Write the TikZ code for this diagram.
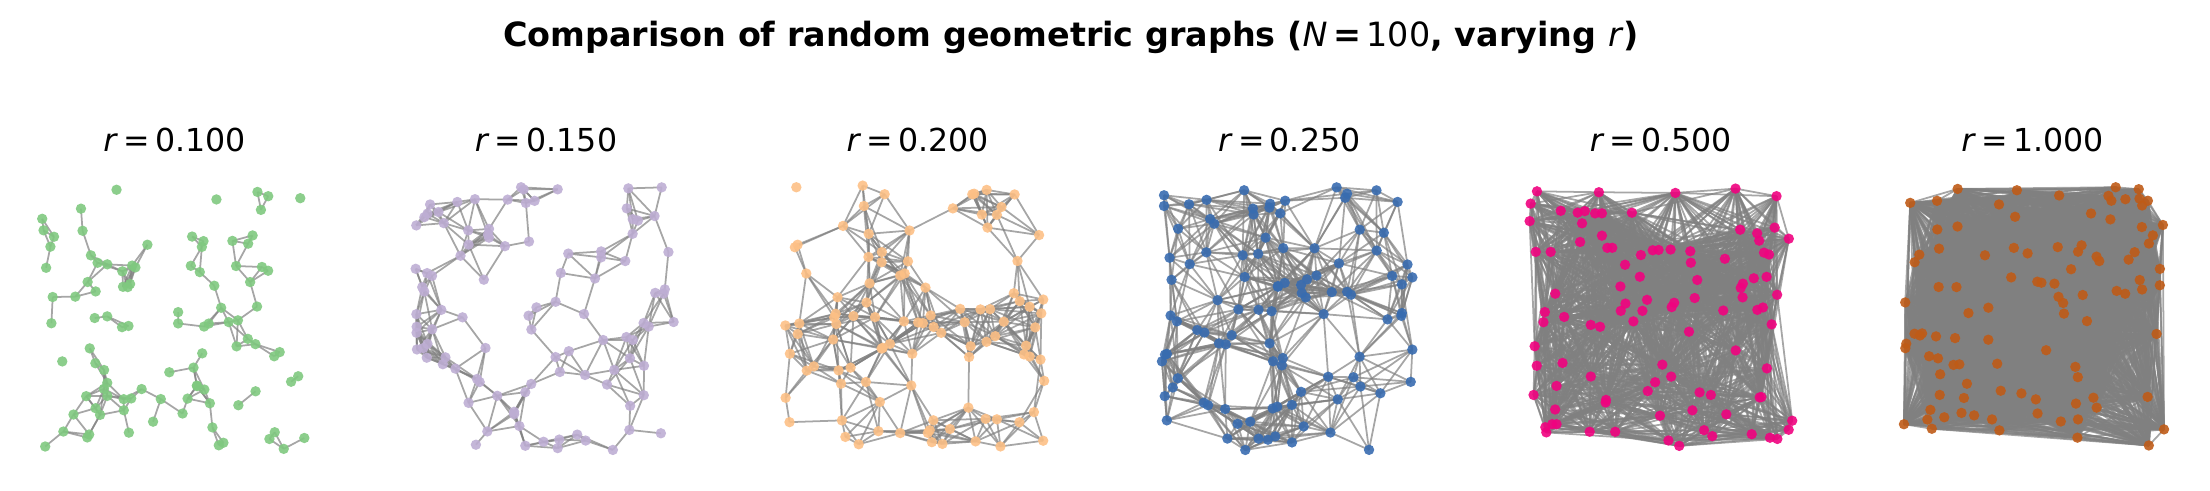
\documentclass[tikz,border=0pt]{standalone}
\usepackage{fontspec}
\setmainfont{DejaVu Sans}
\definecolor{graphGreen}{RGB}{127,201,127}
\definecolor{graphPurple}{RGB}{190,174,212}
\definecolor{graphOrange}{RGB}{253,192,134}
\definecolor{graphBlue}{RGB}{56,108,176}
\definecolor{graphPink}{RGB}{240,2,127}
\definecolor{graphBrown}{RGB}{191,91,23}

\begin{document}
\begin{tikzpicture}[
    edge/.style={draw=black!50, line width=0.5pt, opacity=0.7},
    vertex/.style={fill=#1, opacity=0.9},
    paneltitle/.style={font=\fontsize{9}{11}\selectfont}]
  \useasboundingbox (0,0) rectangle (22.10,4.90);
  \node (title) at (10.71,4.53) {\fontsize{9.5}{11}\selectfont\bfseries Comparison of random geometric graphs (\textit{\mdseries N}\,=\,{\mdseries 100}, varying \textit{\mdseries r})};
  % one panel per radius
  \foreach \k/\rad/\col/\seed in {1/0.100/graphGreen/11, 2/0.150/graphPurple/23, 3/0.200/graphOrange/37,
      4/0.250/graphBlue/41, 5/0.500/graphPink/53, 6/1.000/graphBrown/67}{
    \node[paneltitle] (t\k) at ({1.745+3.716*(\k-1)},3.50) {\textit{r}\,=\,\rad};
    \begin{scope}[shift={({0.42+3.716*(\k-1)},0.395)}]
      \pgfmathsetseed{\seed}
      \foreach \i in {1,...,100}{
        \pgfmathsetmacro\ux{rnd}
        \pgfmathsetmacro\uy{rnd}
        \expandafter\xdef\csname ux\i\endcsname{\ux}
        \expandafter\xdef\csname uy\i\endcsname{\uy}
        \coordinate (g\k-\i) at (\ux*2.65,\uy*2.65);
      }
      % edges where the distance is below r
      \foreach \i in {1,...,99}{
        \pgfmathtruncatemacro\inext{\i+1}
        \foreach \j in {\inext,...,100}{
          \pgfmathparse{((\csname ux\i\endcsname-\csname ux\j\endcsname)^2+(\csname uy\i\endcsname-\csname uy\j\endcsname)^2)<(\rad*\rad)}
          \ifdim\pgfmathresult pt>0.5pt \draw[edge] (g\k-\i) -- (g\k-\j);\fi
        }
      }
      \foreach \i in {1,...,100}
        \fill[vertex=\col] (g\k-\i) circle (0.052);
    \end{scope}
  }
\end{tikzpicture}
\end{document}
